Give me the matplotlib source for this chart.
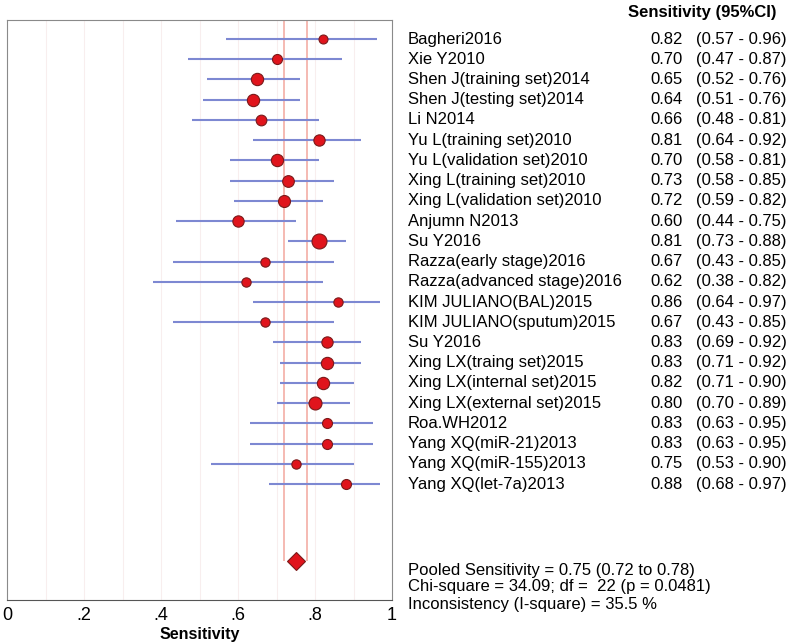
import numpy as np
import matplotlib.pyplot as plt
import matplotlib.transforms as mtransforms

plt.rcParams['font.family'] = ['Liberation Sans', 'DejaVu Sans']

# study data
studies = ['Bagheri2016', 'Xie Y2010', 'Shen J(training set)2014', 'Shen J(testing set)2014',
           'Li N2014', 'Yu L(training set)2010', 'Yu L(validation set)2010',
           'Xing L(training set)2010', 'Xing L(validation set)2010', 'Anjumn N2013',
           'Su Y2016', 'Razza(early stage)2016', 'Razza(advanced stage)2016',
           'KIM JULIANO(BAL)2015', 'KIM JULIANO(sputum)2015', 'Su Y2016',
           'Xing LX(traing set)2015', 'Xing LX(internal set)2015', 'Xing LX(external set)2015',
           'Roa.WH2012', 'Yang XQ(miR-21)2013', 'Yang XQ(miR-155)2013', 'Yang XQ(let-7a)2013']
sens = [0.82, 0.70, 0.65, 0.64, 0.66, 0.81, 0.70, 0.73, 0.72, 0.60, 0.81, 0.67, 0.62,
        0.86, 0.67, 0.83, 0.83, 0.82, 0.80, 0.83, 0.83, 0.75, 0.88]
lower = [0.57, 0.47, 0.52, 0.51, 0.48, 0.64, 0.58, 0.58, 0.59, 0.44, 0.73, 0.43, 0.38,
         0.64, 0.43, 0.69, 0.71, 0.71, 0.70, 0.63, 0.63, 0.53, 0.68]
upper = [0.96, 0.87, 0.76, 0.76, 0.81, 0.92, 0.81, 0.85, 0.82, 0.75, 0.88, 0.85, 0.82,
         0.97, 0.85, 0.92, 0.92, 0.90, 0.89, 0.95, 0.95, 0.90, 0.97]
# relative study weights (marker diameter)
weights = [9, 10, 12.3, 12.3, 10.7, 11.3, 12.3, 11.7, 12, 11.3, 15, 9.3, 9.3,
           9.3, 9.3, 11.3, 12.3, 12.3, 13, 10, 10, 9.3, 10]

pooled = 0.75
pooled_lo = 0.72
pooled_hi = 0.78
chi2 = 34.09
df = 22
pval = 0.0481
i2 = 35.5

fig = plt.figure(figsize=(8, 6.44), dpi=100)
ax = fig.add_axes([7/800, 1 - 600/644, 385/800, 580/644])

n = len(studies)
rows = np.arange(n)
diamond_y = 25.8

# faint grid
for g in np.arange(0.1, 1.0, 0.1):
    ax.axvline(g, color='#f8eeee', lw=0.8, zorder=0)

# pooled CI lines
ax.vlines([pooled_lo, pooled_hi], -1, diamond_y, color='#f5b4ac', lw=1.3, zorder=1)

ax.hlines(rows, lower, upper, color='#7d88d2', lw=1.5, zorder=2)
for y, s, w in zip(rows, sens, weights):
    ax.plot(s, y, 'o', ms=w / 1.39, mfc='#e0141c', mec='#7a1a1a', mew=0.8, zorder=3)

ax.plot(pooled, diamond_y, 'D', ms=9.5, mfc='#e0141c', mec='#7a1a1a', mew=0.8, zorder=3)

ax.set_xlim(0, 1)
ax.set_ylim(27.73, -0.94)
ax.set_yticks([])
ax.set_xticks([0, 0.2, 0.4, 0.6, 0.8, 1])
ax.set_xticklabels(['0', '.2', '.4', '.6', '.8', '1'], fontsize=13)
ax.tick_params(axis='x', length=0, pad=5)
ax.set_xlabel('Sensitivity', fontsize=11.5, fontweight='bold', labelpad=2)
for sp in ax.spines.values():
    sp.set_color('#8a8a8a')
ax.spines['bottom'].set_color('#555555')

# right-hand text columns, rows aligned with the axis rows
trans = mtransforms.blended_transform_factory(fig.transFigure, ax.transData)
fs = 12
for y, name, s, lo, hi in zip(rows, studies, sens, lower, upper):
    ax.text(408/800, y, name, transform=trans, fontsize=fs, va='center', ha='left')
    ax.text(683/800, y, f'{s:.2f}', transform=trans, fontsize=fs, va='center', ha='right')
    ax.text(696/800, y, f'({lo:.2f} - {hi:.2f})', transform=trans, fontsize=fs,
            va='center', ha='left')

fig.text(628/800, 1 - 12/644, 'Sensitivity (95%CI)', fontsize=12, fontweight='bold',
         va='center', ha='left')

fig.text(408/800, 1 - 570/644, f'Pooled Sensitivity = {pooled:.2f} ({pooled_lo:.2f} to {pooled_hi:.2f})',
         fontsize=fs, va='center')
fig.text(408/800, 1 - 587/644, f'Chi-square = {chi2:.2f}; df =  {df} (p = {pval:.4f})',
         fontsize=fs, va='center')
fig.text(408/800, 1 - 605/644, f'Inconsistency (I-square) = {i2:.1f} %',
         fontsize=fs, va='center')

fig.savefig('out.png', dpi=100)
